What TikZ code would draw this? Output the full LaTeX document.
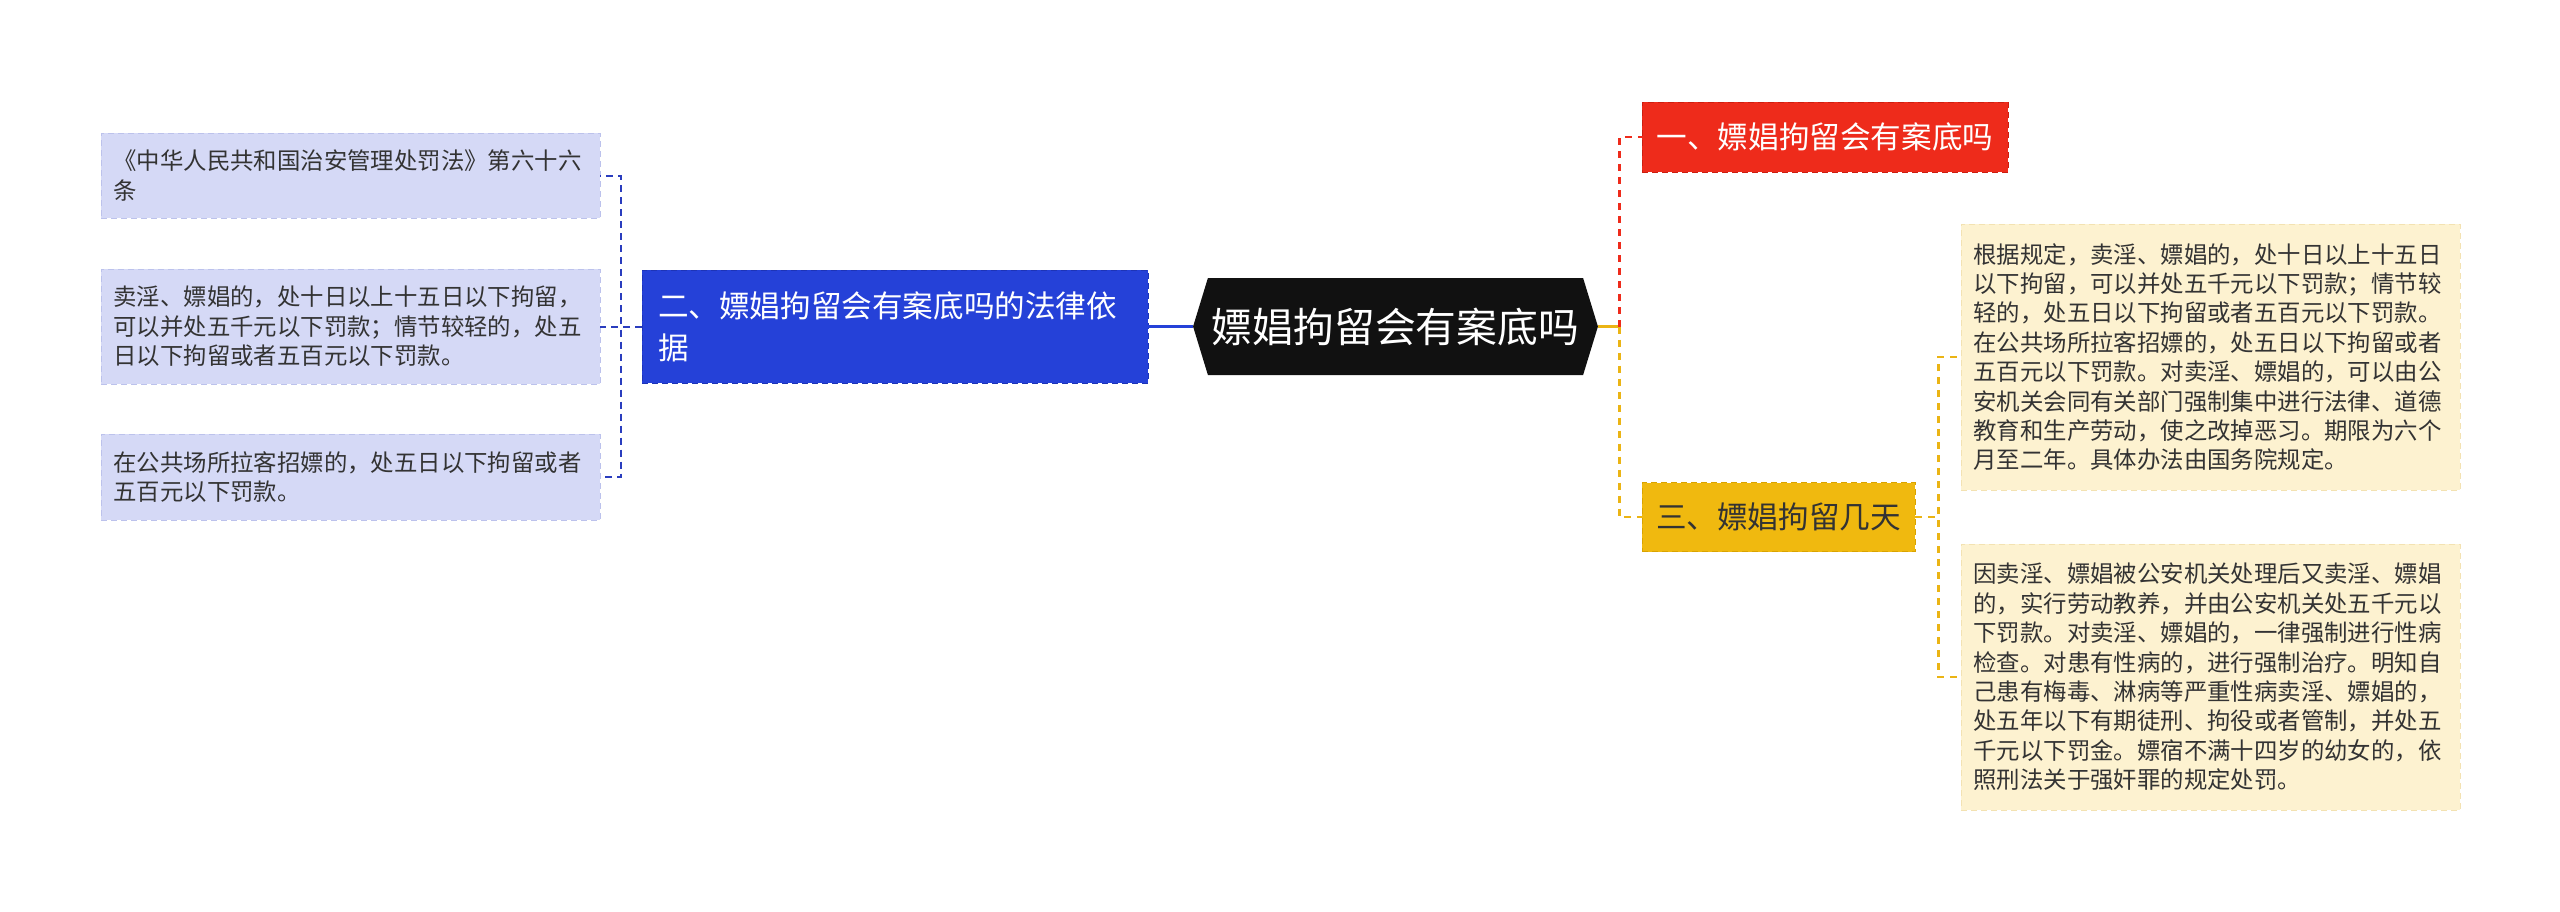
\documentclass[tikz,border=0pt]{standalone}
\usepackage{fontspec}
\usepackage{xcolor}
\usepackage{tikz}
\usetikzlibrary{shapes.symbols}
\newfontfamily\cjk{Noto Sans CJK SC}

\definecolor{lav}{HTML}{D5D9F6}
\definecolor{lavline}{HTML}{BCC2EC}
\definecolor{lawblue}{HTML}{2541D8}
\definecolor{lawline}{HTML}{1D34B8}
\definecolor{linkblue}{HTML}{2A3DBE}
\definecolor{rootfill}{HTML}{111111}
\definecolor{qred}{HTML}{EE2B1B}
\definecolor{qredline}{HTML}{CC1E10}
\definecolor{dyel}{HTML}{F0B90F}
\definecolor{dyelline}{HTML}{D9A300}
\definecolor{linkyel}{HTML}{EBB414}
\definecolor{cream}{HTML}{FDF2D0}
\definecolor{creamline}{HTML}{F3E2B2}
\definecolor{txt}{HTML}{333333}

\tikzset{
  leaf/.style={draw=lavline, fill=lav, dash pattern=on 3pt off 2pt, text=txt,
    align=left, text width=237pt, inner xsep=6.25pt, inner ysep=4pt,
    font=\cjk\fontsize{11.7}{14.7}\selectfont},
  note/.style={leaf, draw=creamline, fill=cream},
  branch/.style={dash pattern=on 3pt off 2pt, align=left, inner ysep=4pt,
    font=\cjk\fontsize{15.3}{21}\selectfont},
  root/.style={shape=signal, signal to=east and west, signal pointer angle=146,
    fill=rootfill, text=white, minimum height=48.5pt, inner xsep=2pt,
    font=\cjk\fontsize{20.4}{24}\selectfont},
  lawlink/.style={draw=linkblue, line width=1pt, dash pattern=on 3.5pt off 2.5pt},
  redlink/.style={draw=qred, line width=1.3pt, dash pattern=on 3.5pt off 3pt},
  yellink/.style={draw=linkyel, line width=1.3pt, dash pattern=on 3.5pt off 3pt}
}

\begin{document}
\begin{tikzpicture}[x=0.5pt, y=-0.5pt]
	\useasboundingbox (0,0) rectangle (2560,911);
	% centre
	\node[root] (O) at (1395.5,326.5) {嫖娼拘留会有案底吗};
	% left side
	\node[branch, draw=lawline, fill=lawblue, text=white, text width=237pt, inner xsep=8pt, minimum height=56.5pt] (L) at (895,326.5) {二、嫖娼拘留会有案底吗的法律依\\据};
	\node[leaf, minimum height=42.5pt] (L1) at (350.5,175.5) {《中华人民共和国治安管理处罚法》第六十六\\条};
	\node[leaf, minimum height=57.5pt] (L2) at (350.5,326.5) {卖淫、嫖娼的，处十日以上十五日以下拘留，\\可以并处五千元以下罚款；情节较轻的，处五\\日以下拘留或者五百元以下罚款。};
	\node[leaf, minimum height=43pt] (L3) at (350.5,477) {在公共场所拉客招嫖的，处五日以下拘留或者\\五百元以下罚款。};
	% right side
	\node[branch, draw=qredline, fill=qred, text=white, minimum width=183pt, minimum height=35pt] (Q) at (1825,137) {一、嫖娼拘留会有案底吗};
	\node[branch, draw=dyelline, fill=dyel, text=txt, minimum width=136.5pt, minimum height=34.5pt] (D) at (1778.5,517) {三、嫖娼拘留几天};
	\node[note, minimum height=133pt] (D1) at (2210.5,357) {根据规定，卖淫、嫖娼的，处十日以上十五日\\以下拘留，可以并处五千元以下罚款；情节较\\轻的，处五日以下拘留或者五百元以下罚款。\\在公共场所拉客招嫖的，处五日以下拘留或者\\五百元以下罚款。对卖淫、嫖娼的，可以由公\\安机关会同有关部门强制集中进行法律、道德\\教育和生产劳动，使之改掉恶习。期限为六个\\月至二年。具体办法由国务院规定。};
	\node[note, minimum height=133pt] (D2) at (2210.5,677) {因卖淫、嫖娼被公安机关处理后又卖淫、嫖娼\\的，实行劳动教养，并由公安机关处五千元以\\下罚款。对卖淫、嫖娼的，一律强制进行性病\\检查。对患有性病的，进行强制治疗。明知自\\己患有梅毒、淋病等严重性病卖淫、嫖娼的，\\处五年以下有期徒刑、拘役或者管制，并处五\\千元以下罚金。嫖宿不满十四岁的幼女的，依\\照刑法关于强奸罪的规定处罚。};
	% links
	\draw[draw=lawblue, line width=1.5pt] (L.east) -- (O.west);
	\draw[lawlink] (L.west) -- (L2.east);
	\draw[lawlink] (L.west) -- ++(-21,0) |- (L1.east);
	\draw[lawlink] (L.west) -- ++(-21,0) |- (L3.east);
	\draw[draw=linkyel, line width=1.5pt] (O.east) -- ++(21,0) coordinate (S);
	\draw[redlink] (S) |- (Q.west);
	\draw[yellink] (S) |- (D.west);
	\draw[yellink] (D.east) -- ++(23,0) |- (D1.west);
	\draw[yellink] (D.east) -- ++(23,0) |- (D2.west);
\end{tikzpicture}
\end{document}
